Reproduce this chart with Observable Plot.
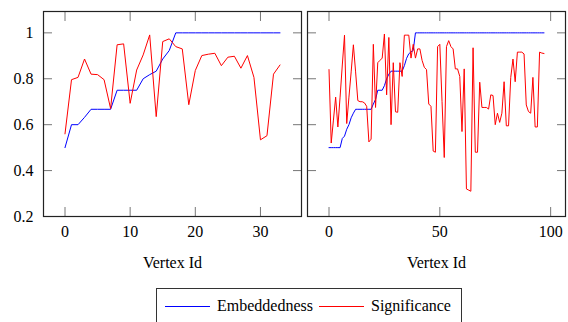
<!DOCTYPE html>
<html>
<head>
<meta charset="utf-8">
<script src="https://cdn.jsdelivr.net/npm/d3@7"></script>
<script src="https://cdn.jsdelivr.net/npm/@observablehq/plot@0.6"></script>
<style>
html, body { margin: 0; padding: 0; overflow: hidden; background: #fff; }
#chart { position: relative; width: 568px; height: 322px; overflow: hidden; font-family: "Liberation Serif", "Times New Roman", serif; color: #000; }
#chart svg text { font-family: "Liberation Serif", "Times New Roman", serif; }
#left { position: absolute; left: 0; top: 0; }
#right { position: absolute; left: 304px; top: 0; }
#legend { position: absolute; left: 156px; top: 288px; width: 306px; box-sizing: border-box; border: 1px solid #333; display: flex; align-items: center; height: 36px; padding-left: 8px; font-size: 16px; line-height: 18px; }
#legend .sw { display: inline-block; width: 45px; height: 0; border-top: 1px solid; margin-right: 7px; }
#legend .item { display: flex; align-items: center; margin-right: 6px; }
</style>
</head>
<body>
<div id="chart">
  <div id="left"></div>
  <div id="right"></div>
  <div id="legend"></div>
</div>
<script>
// ---- data ----
const seriesNames = ["Embeddedness", "Significance"];
const seriesColors = ["#0000ff", "#ff0000"];

const leftEmbeddedness = [0.5, 0.6, 0.6, 0.632, 0.667, 0.667, 0.667, 0.667, 0.75, 0.75, 0.75, 0.75,
  0.8, 0.818, 0.833, 0.886, 0.923, 1, 1, 1, 1, 1, 1, 1, 1, 1, 1, 1, 1, 1, 1, 1, 1, 1];
const leftSignificance = [0.56, 0.796, 0.806, 0.886, 0.82, 0.818, 0.796, 0.67, 0.948, 0.952, 0.693, 0.838,
  0.904, 0.991, 0.635, 0.962, 0.974, 0.94, 0.93, 0.687, 0.836, 0.901, 0.907, 0.911, 0.857, 0.894,
  0.898, 0.846, 0.901, 0.806, 0.534, 0.552, 0.82, 0.86];

const rightEmbeddedness = [0.5, 0.5, 0.5, 0.5, 0.5, 0.5, 0.54, 0.55, 0.58, 0.6, 0.63, 0.65,
  0.667, 0.667, 0.667, 0.667, 0.667, 0.667, 0.667, 0.667, 0.69, 0.71, 0.75, 0.75, 0.75,
  0.77, 0.8, 0.82, 0.833, 0.833, 0.833, 0.833, 0.833, 0.833, 0.857, 0.889, 0.909, 0.917, 0.923,
  1, 1, 1, 1, 1, 1, 1, 1, 1, 1, 1, 1, 1, 1, 1, 1, 1, 1, 1, 1, 1, 1, 1, 1, 1, 1, 1, 1, 1, 1,
  1, 1, 1, 1, 1, 1, 1, 1, 1, 1, 1, 1, 1, 1, 1, 1, 1, 1, 1, 1, 1, 1, 1, 1, 1, 1, 1, 1, 1];
const rightSignificance = [0.84, 0.52, 0.62, 0.72, 0.59, 0.72, 0.86, 0.99, 0.605, 0.72, 0.83, 0.948,
  0.83, 0.705, 0.7, 0.7, 0.695, 0.68, 0.525, 0.537, 0.95, 0.675, 0.87, 0.88, 0.89, 0.995,
  0.73, 0.98, 0.6, 0.87, 0.656, 0.654, 0.87, 0.81, 0.99, 0.99, 0.99, 0.89, 0.95, 0.89,
  0.93, 0.93, 0.88, 0.85, 0.84, 0.69, 0.68, 0.485, 0.48, 0.94, 0.95, 0.7, 0.457, 0.94,
  0.966, 0.94, 0.93, 0.843, 0.843, 0.81, 0.57, 0.843, 0.32, 0.315, 0.31, 0.935, 0.48, 0.48,
  0.785, 0.675, 0.675, 0.675, 0.668, 0.73, 0.727, 0.6, 0.65, 0.61, 0.65, 0.787, 0.595,
  0.595, 0.806, 0.886, 0.787, 0.916, 0.916, 0.916, 0.908, 0.686, 0.657, 0.65, 0.806, 0.59,
  0.59, 0.916, 0.912, 0.91];

const yTicks = [0.2, 0.4, 0.6, 0.8, 1];
const yTickLabels = ["0.2", "0.4", "0.6", "0.8", "1"];
const leftXTicks = [0, 10, 20, 30];
const leftXTickLabels = ["0", "10", "20", "30"];
const rightXTicks = [0, 50, 100];
const rightXTickLabels = ["0", "50", "100"];
const xLabel = "Vertex Id";

// ---- drawing ----
const serif = '"Liberation Serif", "Times New Roman", serif';
const tickColor = "#777";
function panel({emb, sig, xDomain, xTicks, xTickLabels, width, marginLeft, marginRight, showYLabels}) {
  return Plot.plot({
    width, height: 280,
    marginLeft, marginRight, marginTop: 11, marginBottom: 64,
    style: {fontFamily: serif, fontSize: "16px", background: "transparent", color: "#000", overflow: "visible"},
    x: {domain: xDomain},
    y: {domain: [0.2, 1.093]},
    marks: [
      Plot.axisX({anchor: "bottom", ticks: xTicks, tickSize: -9, tickPadding: 18, stroke: tickColor, fill: "#000", fontFamily: serif,
        tickFormat: d => xTickLabels[xTicks.indexOf(d)], label: xLabel, labelAnchor: "center", labelArrow: "none", labelOffset: 51}),
      Plot.axisX({anchor: "top", ticks: xTicks, tickSize: -9, stroke: tickColor, tickFormat: () => "", label: null}),
      Plot.axisY({anchor: "left", ticks: yTicks, tickSize: -9, tickPadding: 19, stroke: tickColor, fill: "#000", fontFamily: serif,
        tickFormat: showYLabels ? (d => yTickLabels[yTicks.indexOf(d)]) : (() => ""), label: null}),
      Plot.axisY({anchor: "right", ticks: yTicks, tickSize: -9, stroke: tickColor, tickFormat: () => "", label: null}),
      Plot.lineY(emb, {stroke: seriesColors[0], strokeWidth: 1}),
      Plot.lineY(sig, {stroke: seriesColors[1], strokeWidth: 1}),
      Plot.frame({stroke: "#222", strokeWidth: 1.2})
    ]
  });
}

document.getElementById("left").append(panel({
  emb: leftEmbeddedness, sig: leftSignificance, xDomain: [-3.3, 36.3],
  xTicks: leftXTicks, xTickLabels: leftXTickLabels, width: 304, marginLeft: 43, marginRight: 3, showYLabels: true
}));
document.getElementById("right").append(panel({
  emb: rightEmbeddedness, sig: rightSignificance, xDomain: [-9.7, 106.7],
  xTicks: rightXTicks, xTickLabels: rightXTickLabels, width: 264, marginLeft: 3, marginRight: 3, showYLabels: false
}));

const legend = document.getElementById("legend");
seriesNames.forEach((name, i) => {
  const item = document.createElement("span");
  item.className = "item";
  const sw = document.createElement("span");
  sw.className = "sw";
  sw.style.borderTopColor = seriesColors[i];
  const t = document.createElement("span");
  t.textContent = name;
  item.append(sw, t);
  legend.append(item);
});
</script>
</body>
</html>
